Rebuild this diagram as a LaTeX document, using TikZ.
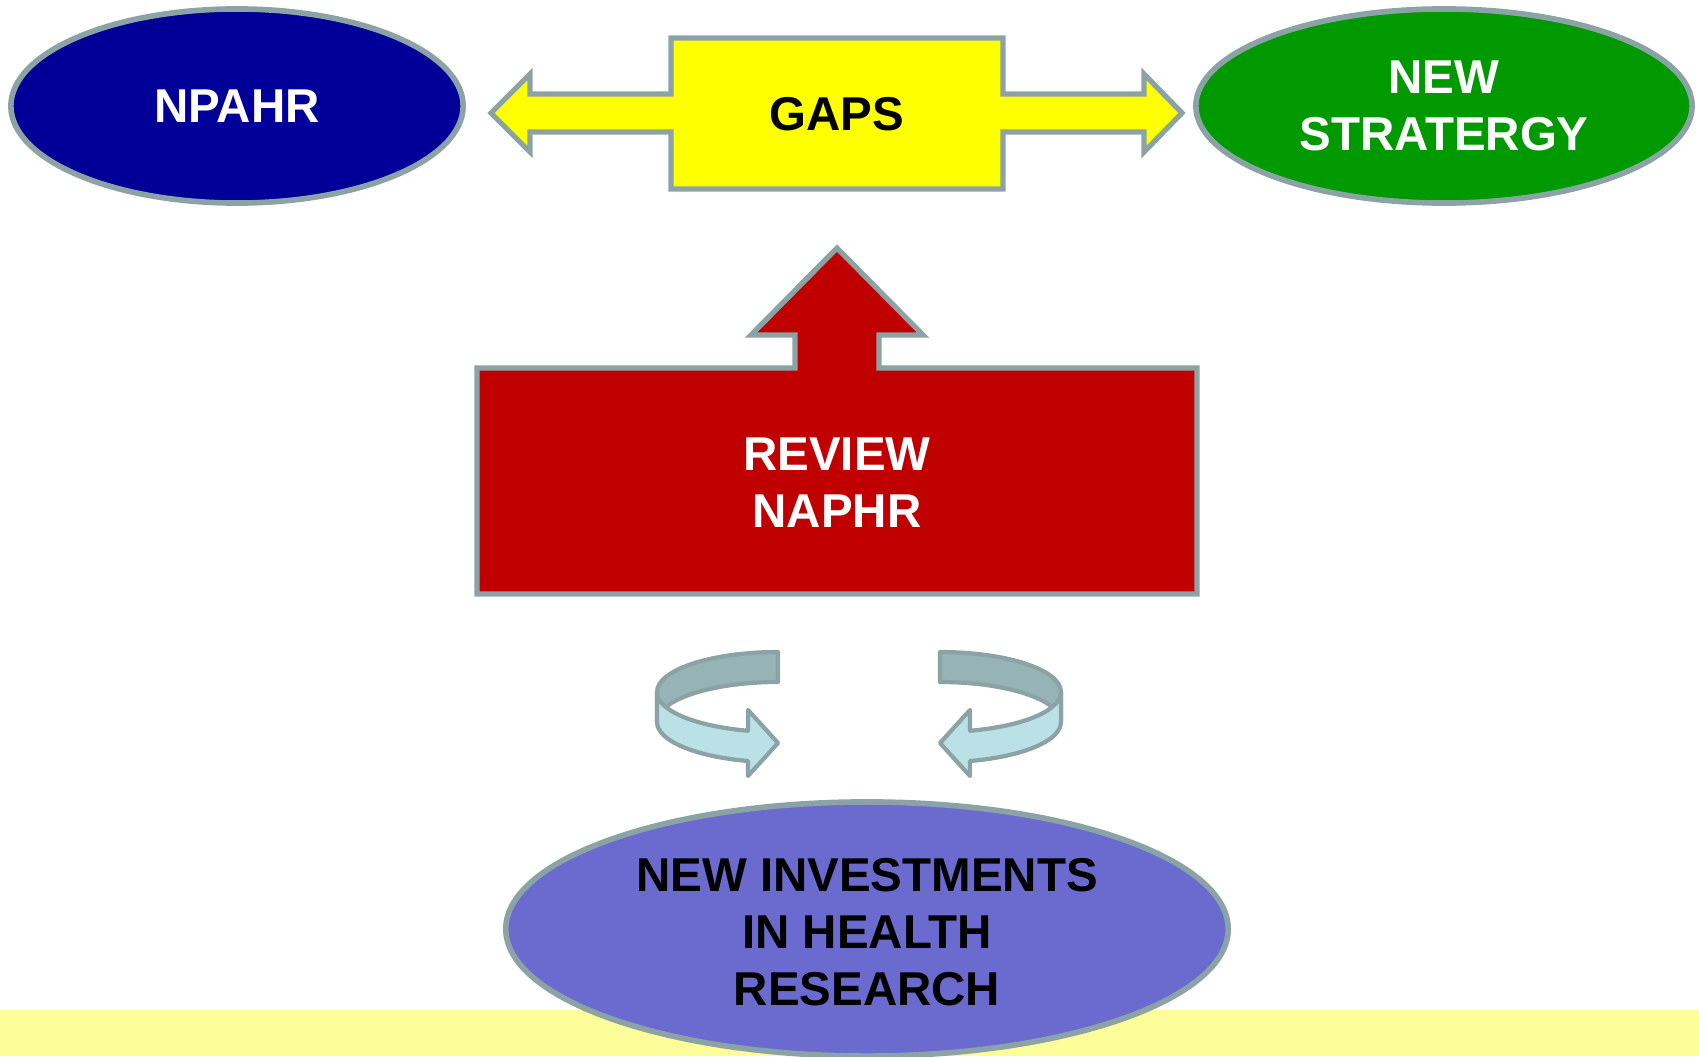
\documentclass[tikz,border=0pt]{standalone}
\usepackage{fontspec}
\setmainfont{Liberation Sans}
\usepackage{xcolor}
\usetikzlibrary{shapes.geometric}

\definecolor{rimgray}{HTML}{8CA3A6}
\definecolor{npahrblue}{HTML}{000099}
\definecolor{stratgreen}{HTML}{009900}
\definecolor{gapsyellow}{HTML}{FFFF00}
\definecolor{reviewred}{HTML}{C00000}
\definecolor{investblue}{HTML}{6B6BCF}
\definecolor{bandyellow}{HTML}{FDFD99}
\definecolor{ringback}{HTML}{96B3B5}
\definecolor{ringfront}{HTML}{BAE1E5}

\tikzset{
  blob/.style={ellipse, draw=rimgray, line width=1.6pt, inner sep=0pt, align=center,
    font=\bfseries\fontsize{13.5}{16.3}\selectfont},
  lbl/.style={align=center, font=\bfseries\fontsize{13.5}{16.3}\selectfont},
  rim/.style={draw=rimgray, line width=1.5pt, line join=miter},
  ringrim/.style={draw=rimgray, line width=1.2pt, line join=round},
}

% half ring arrow, drawn pointing right
\newcommand{\turnarrow}{%
  \draw[ringrim, fill=ringback] (778,404)
    arc[start angle=90, end angle=180, x radius=121, y radius=40] -- (657,334)
    arc[start angle=180, end angle=90, x radius=121, y radius=40] -- cycle;
  \draw[ringrim, fill=ringfront] (657,364)
    arc[start angle=180, end angle=255.6, x radius=121, y radius=40]
    -- (748,346) -- (778,313) -- (748,280) -- (748,295)
    arc[start angle=255.6, end angle=180, x radius=121, y radius=40] -- cycle;
}

\begin{document}
\begin{tikzpicture}[x=0.01cm, y=0.01cm]
        \useasboundingbox (0,0) rectangle (1699,1056);

        % Draw bottom band
        \fill[bandyellow] (0,0) rectangle (1699,46);

        % Draw side ellipses
        \node[blob, fill=npahrblue, text=white, minimum width=4.52cm, minimum height=1.94cm]
          (npahr) at (237,950) {NPAHR};
        \node[blob, fill=stratgreen, text=white, minimum width=4.96cm, minimum height=1.94cm]
          (strategy) at (1444,950) {NEW\\STRATERGY};

        % Draw gaps box with double arrow
        \draw[rim, fill=gapsyellow] (491,943) -- (530,982) -- (530,962) -- (671,962)
          -- (671,1018) -- (1003,1018) -- (1003,962) -- (1144,962) -- (1144,982)
          -- (1182,943) -- (1144,904) -- (1144,924) -- (1003,924) -- (1003,867)
          -- (671,867) -- (671,924) -- (530,924) -- (530,904) -- cycle;
        \node[lbl] (gaps) at (837,942) {GAPS};

        % Draw review box with up arrow
        \draw[rim, fill=reviewred] (477,688) -- (795,688) -- (795,721) -- (751,721)
          -- (837,808) -- (923,721) -- (879,721) -- (879,688) -- (1197,688)
          -- (1197,462) -- (477,462) -- cycle;
        \node[lbl, text=white] (review) at (837,573) {REVIEW\\NAPHR};

        % Draw turning arrows
        \turnarrow
        \begin{scope}[shift={(1718,0)}, xscale=-1]
          \turnarrow
        \end{scope}

        % Draw investments ellipse
        \node[blob, fill=investblue, minimum width=7.22cm, minimum height=2.54cm]
          (invest) at (867,127) {};
        \node[lbl] (investtext) at (867,124) {NEW INVESTMENTS\\IN HEALTH\\RESEARCH};

\end{tikzpicture}
\end{document}
